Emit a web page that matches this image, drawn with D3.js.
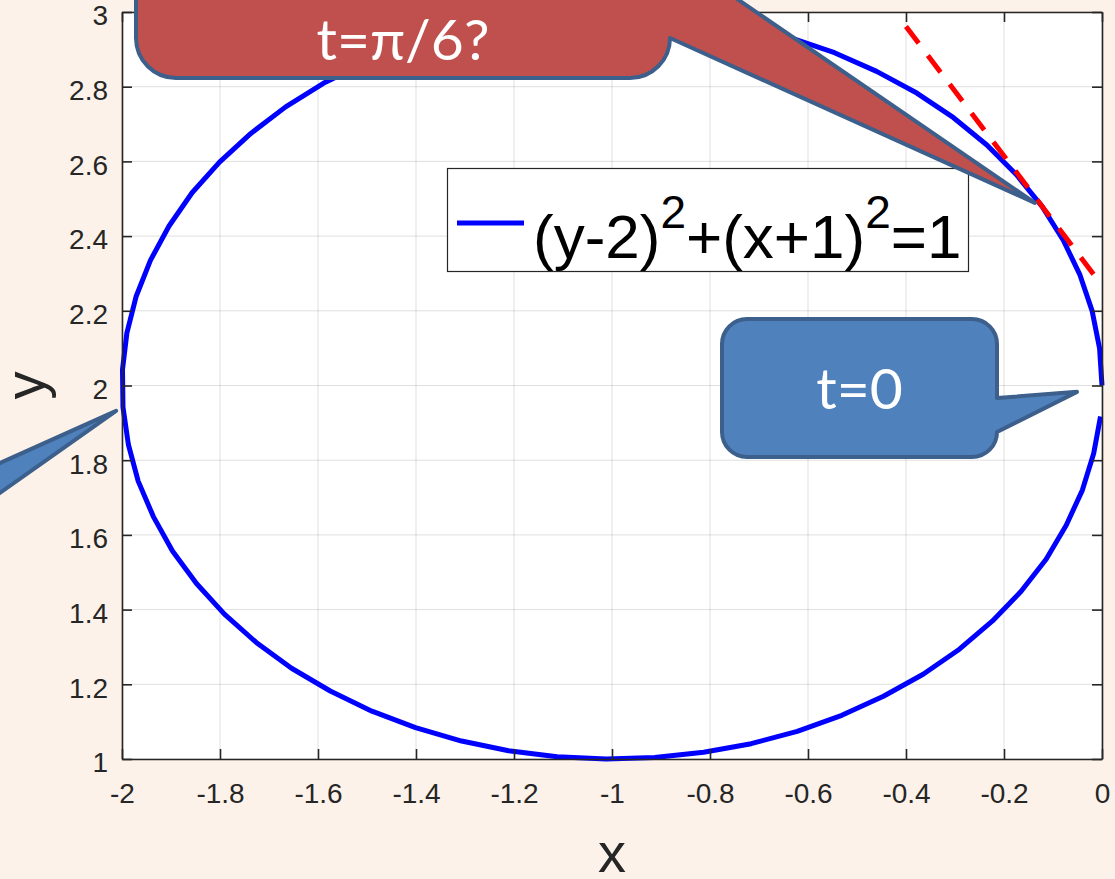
<!DOCTYPE html>
<html>
<head>
<meta charset="utf-8">
<script src="https://cdn.jsdelivr.net/npm/d3@7"></script>
<style>
  html, body { margin: 0; padding: 0; background: #fcf2e9; }
  svg { display: block; }
</style>
</head>
<body>
<svg id="chart" width="1115" height="879"></svg>
<script>
// Axis ticks and labels
const xTicks = [-2, -1.8, -1.6, -1.4, -1.2, -1, -0.8, -0.6, -0.4, -0.2, 0];
const xTickLabels = ["-2", "-1.8", "-1.6", "-1.4", "-1.2", "-1", "-0.8", "-0.6", "-0.4", "-0.2", "0"];
const yTicks = [1, 1.2, 1.4, 1.6, 1.8, 2, 2.2, 2.4, 2.6, 2.8, 3];
const yTickLabels = ["1", "1.2", "1.4", "1.6", "1.8", "2", "2.2", "2.4", "2.6", "2.8", "3"];

// Sampled points of the circle (t = 0 ... 6.2, step 0.1)
const curveX = [0.000, -0.005, -0.020, -0.045, -0.079, -0.122, -0.175, -0.235, -0.303, -0.378,
  -0.460, -0.546, -0.638, -0.733, -0.830, -0.929, -1.029, -1.129, -1.227, -1.323,
  -1.416, -1.505, -1.589, -1.666, -1.737, -1.801, -1.857, -1.904, -1.942, -1.971,
  -1.990, -1.999, -1.998, -1.987, -1.967, -1.936, -1.897, -1.848, -1.791, -1.726,
  -1.654, -1.575, -1.490, -1.401, -1.307, -1.211, -1.112, -1.012, -0.913, -0.813,
  -0.716, -0.622, -0.531, -0.446, -0.365, -0.291, -0.224, -0.165, -0.114, -0.073,
  -0.040, -0.017, -0.003];
const curveY = [2.000, 2.100, 2.199, 2.296, 2.389, 2.479, 2.565, 2.644, 2.717, 2.783,
  2.841, 2.891, 2.932, 2.964, 2.985, 2.997, 3.000, 2.992, 2.974, 2.946,
  2.909, 2.863, 2.809, 2.746, 2.675, 2.598, 2.516, 2.427, 2.335, 2.239,
  2.141, 2.042, 1.942, 1.842, 1.744, 1.649, 1.557, 1.470, 1.388, 1.312,
  1.243, 1.182, 1.128, 1.084, 1.048, 1.022, 1.006, 1.000, 1.004, 1.018,
  1.041, 1.074, 1.117, 1.168, 1.227, 1.294, 1.369, 1.449, 1.535, 1.626,
  1.720, 1.818, 1.917];

// Tangent line at t = pi/6
const tangentX = [-0.4, 0];
const tangentY = [2.961, 2.268];

// Callout labels and the points they point at
const calloutText = ["t=π/6?", "t=0", ""];
const calloutTipX = [-0.137, -0.051, -2.012];
const calloutTipY = [2.489, 1.983, 1.932];

const legendLabel = ["(y-2)", "2", "+(x+1)", "2", "=1"];

// ---------------------------------------------------------------
const W = 1115, H = 879;
const margin = { left: 122, right: 13, top: 12, bottom: 120 };
const svg = d3.select("#chart");

const x = d3.scaleLinear().domain([-2, 0]).range([margin.left, W - margin.right]);
const y = d3.scaleLinear().domain([1, 3]).range([H - margin.bottom, margin.top]);

const axisColor = "#262626";
const tickFont = "'Liberation Sans', Arial, Helvetica, sans-serif";

// plot area
svg.append("rect")
  .attr("x", x(-2)).attr("y", y(3))
  .attr("width", x(0) - x(-2)).attr("height", y(1) - y(3))
  .attr("fill", "#ffffff");

// grid
const grid = svg.append("g").attr("stroke", axisColor).attr("stroke-opacity", 0.15).attr("stroke-width", 1);
grid.selectAll("line.vx").data(xTicks).join("line")
  .attr("x1", d => x(d)).attr("x2", d => x(d))
  .attr("y1", y(1)).attr("y2", y(3));
grid.selectAll("line.hy").data(yTicks).join("line")
  .attr("y1", d => y(d)).attr("y2", d => y(d))
  .attr("x1", x(-2)).attr("x2", x(0));

// circle curve
const line = d3.line().x(i => x(curveX[i])).y(i => y(curveY[i]));
svg.append("path")
  .attr("d", line(d3.range(curveX.length)))
  .attr("fill", "none")
  .attr("stroke", "#0000ff")
  .attr("stroke-width", 5)
  .attr("stroke-linejoin", "round");

// tangent
const tline = d3.line().x(i => x(tangentX[i])).y(i => y(tangentY[i]));
svg.append("path")
  .attr("d", tline(d3.range(tangentX.length)))
  .attr("fill", "none")
  .attr("stroke", "#ff0000")
  .attr("stroke-width", 5)
  .attr("stroke-dasharray", "21,15.2");

// axes (ticks pointing inward on all four sides)
function styleAxis(g) {
  g.select(".domain").attr("stroke", axisColor).attr("stroke-width", 1.6);
  g.selectAll(".tick line").attr("stroke", axisColor).attr("stroke-width", 1.6);
  g.selectAll(".tick text").attr("fill", axisColor)
    .style("font-family", tickFont).style("font-size", "28px");
}
svg.append("g").attr("transform", `translate(0,${y(1)})`)
  .call(d3.axisBottom(x).tickValues(xTicks).tickFormat((d, i) => xTickLabels[i])
    .tickSizeInner(-10).tickSizeOuter(0).tickPadding(24))
  .call(styleAxis);
svg.append("g").attr("transform", `translate(${x(-2)},0)`)
  .call(d3.axisLeft(y).tickValues(yTicks).tickFormat((d, i) => yTickLabels[i])
    .tickSizeInner(-10).tickSizeOuter(0).tickPadding(14))
  .call(styleAxis)
  .call(g => g.selectAll(".tick text").attr("dy", "0.46em"));
svg.append("g").attr("transform", `translate(0,${y(3)})`)
  .call(d3.axisTop(x).tickValues(xTicks).tickFormat("")
    .tickSizeInner(-10).tickSizeOuter(0))
  .call(styleAxis);
svg.append("g").attr("transform", `translate(${x(0)},0)`)
  .call(d3.axisRight(y).tickValues(yTicks).tickFormat("")
    .tickSizeInner(-10).tickSizeOuter(0))
  .call(styleAxis);

// axis labels
svg.append("text")
  .attr("x", (x(-2) + x(0)) / 2).attr("y", 872)
  .attr("text-anchor", "middle")
  .style("font-family", tickFont).style("font-size", "56px")
  .attr("fill", axisColor).text("x");
svg.append("text")
  .attr("transform", `translate(44,${(y(1) + y(3)) / 2}) rotate(-90)`)
  .attr("text-anchor", "middle")
  .style("font-family", tickFont).style("font-size", "56px")
  .attr("fill", axisColor).text("y");

// legend
const lg = svg.append("g");
lg.append("rect")
  .attr("x", 447.5).attr("y", 168.5).attr("width", 521).attr("height", 103)
  .attr("fill", "#ffffff").attr("stroke", axisColor).attr("stroke-width", 1.2);
lg.append("line")
  .attr("x1", 457).attr("x2", 524).attr("y1", 223).attr("y2", 223)
  .attr("stroke", "#0000ff").attr("stroke-width", 5);
const lt = lg.append("text")
  .attr("x", 533).attr("y", 258)
  .style("font-family", tickFont).style("font-size", "62px")
  .attr("fill", "#000000");
legendLabel.forEach((s, i) => {
  const sup = i % 2 === 1;
  lt.append("tspan")
    .attr("dy", sup ? -30 : (i > 0 ? 30 : 0))
    .style("font-size", sup ? "46px" : "62px")
    .text(s);
});

// callouts: rounded box with a wedge pointer on its right side
function calloutPath(x0, y0, x1, y1, r, b0, tx, ty) {
  const b1 = y1 - r;
  return `M${x0 + r},${y0} L${x1 - r},${y0} A${r},${r} 0 0 1 ${x1},${y0 + r}` +
    ` L${x1},${b0} L${tx},${ty} L${x1},${b1}` +
    ` A${r},${r} 0 0 1 ${x1 - r},${y1} L${x0 + r},${y1}` +
    ` A${r},${r} 0 0 1 ${x0},${y1 - r} L${x0},${y0 + r}` +
    ` A${r},${r} 0 0 1 ${x0 + r},${y0} Z`;
}
const calloutBox = [
  { x0: 136, y0: -90, x1: 670, y1: 78, r: 40, b0: -47, fill: "#c0504d", ty: 60, fs: 57 },
  { x0: 722, y0: 319, x1: 997, y1: 457, r: 25, b0: 398, fill: "#4f81bd", ty: 409, fs: 57 },
  { x0: -400, y0: 420, x1: -20, y1: 532, r: 25, b0: 472, fill: "#4f81bd", ty: 480, fs: 57 }
];
const calloutFont = "Lato, 'Open Sans', sans-serif";
calloutBox.forEach((b, i) => {
  const g = svg.append("g");
  g.append("path")
    .attr("d", calloutPath(b.x0, b.y0, b.x1, b.y1, b.r, b.b0, x(calloutTipX[i]), y(calloutTipY[i])))
    .attr("fill", b.fill)
    .attr("stroke", "#3c5f8b")
    .attr("stroke-width", 4)
    .attr("stroke-linejoin", "round");
  g.append("text")
    .attr("x", (b.x0 + b.x1) / 2).attr("y", b.ty)
    .attr("text-anchor", "middle")
    .style("font-family", calloutFont).style("font-size", b.fs + "px")
    .attr("fill", "#ffffff")
    .text(calloutText[i]);
});
</script>
</body>
</html>
